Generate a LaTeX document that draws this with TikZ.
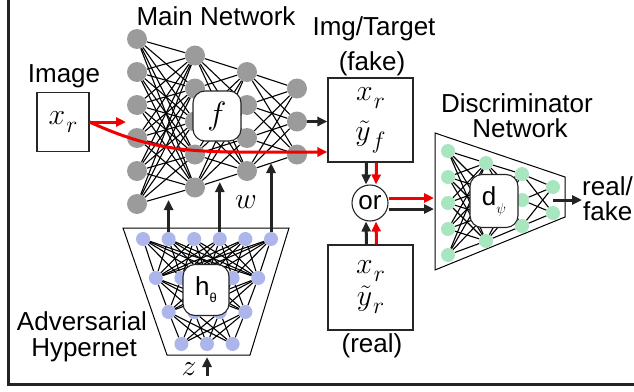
\documentclass[tikz,border=0pt]{standalone}
\usepackage{graphicx}
\usepackage{fontspec}
\setmainfont{Liberation Sans}
\usetikzlibrary{arrows.meta,backgrounds,positioning}
\definecolor{nodegray}{RGB}{155,155,155}
\definecolor{hypblue}{RGB}{172,182,234}
\definecolor{discgreen}{RGB}{168,230,192}
\definecolor{arrred}{RGB}{240,0,0}
\definecolor{arrblack}{RGB}{35,35,35}
\newcommand{\mathbig}[1]{\scalebox{1.2}{$#1$}}
\newcommand{\bigsub}[2]{\mathbig{#1}\kern1pt\raisebox{-8pt}{\scalebox{0.95}{$#2$}}}

\begin{document}
\begin{tikzpicture}[x=1pt,y=-1pt,
    lbl/.style={font=\fontsize{26}{26}\selectfont, inner sep=0pt},
    mth/.style={font=\fontsize{24.88}{40}\selectfont, inner sep=0pt},
    mnode/.style={circle, fill=nodegray, minimum size=20pt, inner sep=0pt},
    hnode/.style={circle, fill=hypblue, minimum size=14pt, inner sep=0pt},
    dnode/.style={circle, fill=discgreen, minimum size=14pt, inner sep=0pt},
    edge/.style={line width=1.1pt, black},
    netbox/.style={draw=black!85, line width=1.1pt, fill=white, rounded corners=12pt,
        minimum width=48pt, minimum height=50pt, inner sep=0pt},
    databox/.style={draw=black!85, line width=1.1pt, fill=white, inner sep=0pt},
    blk/.style={line width=3pt, draw=arrblack, -{Triangle[length=10pt,width=9pt]}},
    redarr/.style={line width=3pt, draw=arrred, -{Triangle[length=10pt,width=9pt]}},
]
    \useasboundingbox (0,0) rectangle (634,391);
    % Cornice
    \draw[line width=3pt, arrblack] (8.5,0) -- (8.5,384.5) -- (634,384.5);

    % Main network
    \foreach \n/\x [count=\l] in {6/137,5/195,4/247,3/297}
      \foreach \i in {1,...,\n}
        \node[mnode] (m\l-\i) at (\x,{121.5+(\i-(\n+1)/2)*33}) {};
    % Hypernet
    \foreach \n/\y [count=\l] in {6/239,5/278,4/312,3/344}
      \foreach \i in {1,...,\n}
        \node[hnode] (h\l-\i) at ({207+(\i-(\n+1)/2)*25.6},\y) {};
    % Discriminator
    \foreach \n/\x/\c [count=\l] in {5/448/203,4/486/202,3/522/200,2/553/200}
      \foreach \i in {1,...,\n}
        \node[dnode] (d\l-\i) at (\x,{\c+(\i-(\n+1)/2)*26}) {};

    % Linee
    \begin{scope}[on background layer]
      \draw[line width=1pt] (123,228) -- (289,228) -- (250,355) -- (167,355) -- cycle;
      \draw[line width=1pt] (435,133) -- (565,177) -- (565,217) -- (435,270) -- cycle;
      \foreach \l/\n/\m in {1/6/5,2/5/4,3/4/3} {
        \pgfmathtruncatemacro\k{\l+1}
        \foreach \i in {1,...,\n}
          \foreach \j in {1,...,\m} {
            \draw[edge] (m\l-\i) -- (m\k-\j);
            \draw[edge] (h\l-\i) -- (h\k-\j);
          }
      }
      \foreach \l/\n/\m in {1/5/4,2/4/3,3/3/2} {
        \pgfmathtruncatemacro\k{\l+1}
        \foreach \i in {1,...,\n}
          \foreach \j in {1,...,\m}
            \draw[edge] (d\l-\i) -- (d\k-\j);
      }
    \end{scope}

    % Reti
    \node[netbox, mth] (fbox) at (217,116) {\scalebox{1.3}{$f$}};
    \node[netbox, minimum width=46pt, minimum height=51pt, font=\fontsize{26}{26}\selectfont] (hbox) at (206,290)
        {h\raisebox{-7pt}{\fontsize{13}{13}\selectfont θ}};
    \node[netbox, minimum height=53pt, font=\fontsize{26}{26}\selectfont] (dbox) at (494,201)
        {d\raisebox{-8pt}{\fontsize{14.4}{15}\selectfont $\psi$}};

    % Dati
    \node[databox, mth, minimum width=52pt, minimum height=59pt] (img) at (63,122) {\bigsub{x}{r}};
    \node[databox, mth, minimum width=85pt, minimum height=84pt, align=center] (fake) at (370.5,120)
        {\bigsub{x}{r}\\\bigsub{\tilde{y}}{f}};
    \node[databox, mth, minimum width=85pt, minimum height=85pt, align=center] (real) at (370.5,287.5)
        {\bigsub{x}{r}\\[-8pt]\bigsub{\tilde{y}}{r}};
    \node[circle, draw=black!85, line width=1.1pt, minimum size=36pt, lbl] (ornode) at (370,203) {or};

    % Scritte
    \node[lbl, anchor=base] (mainlbl) at (216,25) {Main Network};
    \node[lbl, anchor=base] (imglbl) at (64,82) {Image};
    \node[lbl, anchor=base] (tgtlbl) at (374,35) {Img/Target};
    \node[lbl, anchor=base] (fakelbl) at (372,70) {(fake)};
    \node[lbl, anchor=base] (reallbl) at (372,352) {(real)};
    \node[lbl, anchor=base] (disclbl) at (517,112) {Discriminator};
    \node[lbl, anchor=base] (disclbl2) at (520,137) {Network};
    \node[lbl, anchor=base] (advlbl) at (82,330) {Adversarial};
    \node[lbl, anchor=base] (advlbl2) at (84,356) {Hypernet};
    \node[lbl, anchor=base west] (outr) at (582,195) {real/};
    \node[lbl, anchor=base west] (outf) at (583,220) {fake};
    \node[mth, anchor=base] (wlbl) at (246,208) {\mathbig{w}};
    \node[mth, anchor=base] (zlbl) at (189,375) {\mathbig{z}};

    % Frecce
    \coordinate (netin) at (126,0);
    \coordinate (bend) at (240,152);
    \coordinate (tipa) at (0,200);
    \coordinate (tipb) at (0,182);
    \coordinate (tipc) at (0,163);
    \coordinate (zin) at (207,376);
    \coordinate (hbot) at (0,357);
    \coordinate (din) at (434,0);
    \coordinate (dout) at (553,200);
    \draw[blk] (m4-2) -- (m4-2 -| fake.west);
    \draw[blk] (h1-2.north) -- (h1-2 |- tipa);
    \draw[blk] (h1-4.north) -- (h1-4 |- tipb);
    \draw[blk] (h1-6.north) -- (h1-6 |- tipc);
    \draw[blk] (zin) -- (zin |- hbot);
    \draw[blk] ([xshift=-4pt]fake.south) -- ([xshift=-4pt]ornode.north);
    \draw[redarr] ([xshift=6pt]fake.south) -- ([xshift=6pt]ornode.north);
    \draw[blk] ([xshift=-4pt]real.north) -- ([xshift=-4pt]ornode.south);
    \draw[redarr] ([xshift=6pt]real.north) -- ([xshift=6pt]ornode.south);
    \draw[redarr] ([yshift=5pt]ornode.east) -- ([yshift=5pt]ornode.east -| din);
    \draw[blk] ([yshift=-6pt]ornode.east) -- ([yshift=-6pt]ornode.east -| din);
    \draw[blk] (dout) -- (dout -| outr.west);
    \draw[redarr] (img.east) -- (img.east -| netin);
    \draw[redarr] (img.east) .. controls (140,145) and (175,152) .. (bend) -- (bend -| fake.west);
\end{tikzpicture}
\end{document}
